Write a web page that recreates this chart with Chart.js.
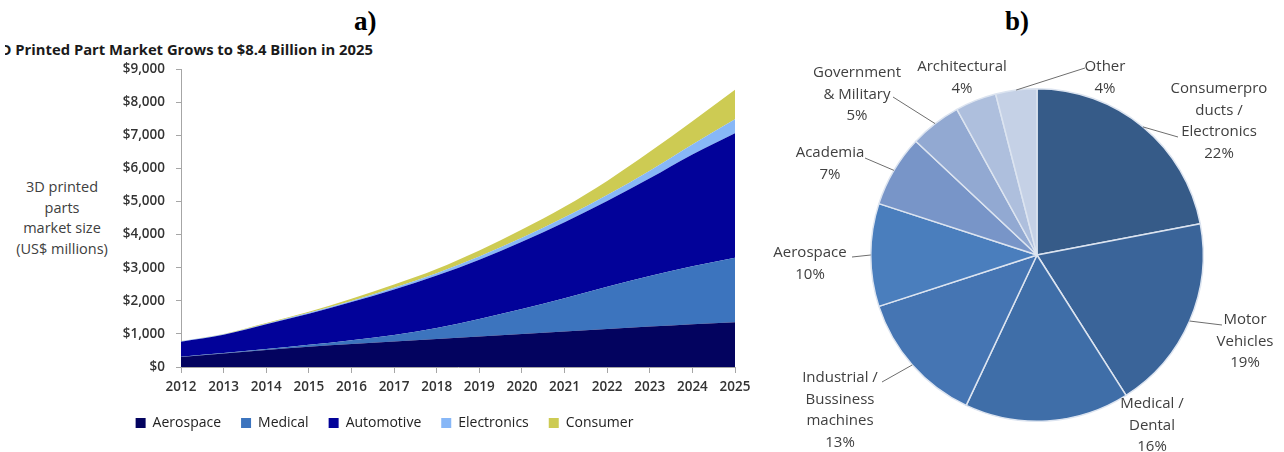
<!DOCTYPE html>
<html><head><meta charset="utf-8">
<script src="https://cdn.jsdelivr.net/npm/chart.js@4.4.0/dist/chart.umd.min.js"></script>
<style>
html,body{margin:0;padding:0;background:#fff;width:1284px;height:452px;overflow:hidden;position:relative;}
#left{position:absolute;left:0;top:0;width:760px;height:452px;}
#right{position:absolute;left:760px;top:0;width:524px;height:452px;}
.panel{position:absolute;font-family:"Liberation Serif",serif;font-weight:bold;font-size:27px;color:#000;line-height:1;}
#titleclip{position:absolute;left:5px;top:40px;width:400px;height:22px;overflow:hidden;}
#title{position:absolute;left:-13px;top:0;font-family:"Open Sans",sans-serif;font-weight:700;font-size:14.8px;color:#1a1a1a;white-space:nowrap;line-height:18px;}
#ytitle{position:absolute;left:2px;top:177px;width:120px;text-align:center;font-family:"Open Sans",sans-serif;font-size:14.5px;line-height:20.7px;color:#404040;}
</style></head>
<body>
<div class="panel" style="left:354px;top:8px;">a)</div>
<div class="panel" style="left:1005px;top:8px;">b)</div>
<div id="titleclip"><div id="title">3D Printed Part Market Grows to $8.4 Billion in 2025</div></div>
<div id="ytitle">3D printed<br>parts<br>market size<br>(US$ millions)</div>
<div id="left"><canvas id="c1" width="760" height="452"></canvas></div>
<div id="right"><canvas id="c2" width="524" height="452"></canvas></div>
<script>
// ---- Area chart data (US$ millions) ----
const years = ['2012','2013','2014','2015','2016','2017','2018','2019','2020','2021','2022','2023','2024','2025'];
const aerospace   = [300, 410, 515, 610, 695, 770, 845, 920, 995, 1070, 1145, 1220, 1290, 1350];
const medical     = [10, 10, 25, 60, 115, 200, 335, 530, 755, 1010, 1275, 1530, 1750, 1950];
const automotive  = [455, 555, 750, 940, 1150, 1370, 1580, 1790, 2030, 2290, 2590, 2950, 3380, 3760];
const electronics = [10, 12, 18, 25, 35, 50, 70, 95, 120, 150, 185, 230, 300, 420];
const consumer    = [10, 13, 22, 35, 65, 100, 130, 185, 250, 320, 425, 570, 700, 890];
const seriesNames = ['Aerospace','Medical','Automotive','Electronics','Consumer'];
const yTicksMax = 9000, yTickStep = 1000;

// ---- Pie chart data (%) ----
const pieLabels = ['Consumerpro\nducts /\nElectronics','Motor\nVehicles','Medical /\nDental','Industrial /\nBussiness\nmachines','Aerospace','Academia','Government\n& Military','Architectural','Other'];
const pieValues = [22, 19, 16, 13, 10, 7, 5, 4, 4];

const seriesColors = ['#03035F','#3C74BE','#020299','#87B7F7','#CDCB53'];
const pieColors = ['#365B88','#3A6499','#3F6EA8','#4575B3','#4A7EBD','#7895C8','#92A9D2','#AEBFDD','#C5D1E6'];

const areaData = [aerospace, medical, automotive, electronics, consumer];
const axisFont = {family:'"Open Sans", sans-serif', size:13.5, weight:'600'};

new Chart(document.getElementById('c1'), {
  type:'line',
  data:{
    labels: years,
    datasets: areaData.map((d,i)=>({
      label: seriesNames[i], data: d,
      backgroundColor: seriesColors[i], borderColor: seriesColors[i],
      borderWidth: 0, pointRadius: 0, cubicInterpolationMode:'monotone',
      fill: i===0 ? 'origin' : '-1'
    }))
  },
  options:{
    responsive:false, animation:false,
    layout:{padding:{left:34,right:25,top:69,bottom:12}},
    plugins:{
      tooltip:{enabled:false},
      legend:{position:'bottom', labels:{boxWidth:10, boxHeight:10, padding:20, color:'#222',
        font:{family:'"Open Sans", sans-serif', size:14}}}
    },
    scales:{
      x:{
        grid:{drawOnChartArea:false, color:'#A6A6A6', tickLength:6},
        border:{color:'#A6A6A6'},
        ticks:{color:'#333', font:axisFont, maxRotation:0, autoSkip:false, padding:6},
        afterFit:s=>{s.height=29;}
      },
      y:{
        stacked:true, min:0, max:yTicksMax,
        grid:{drawOnChartArea:false, color:'#A6A6A6', tickLength:5},
        border:{color:'#A6A6A6'},
        ticks:{stepSize:yTickStep, color:'#333', font:axisFont, padding:11,
          callback:v=>'$'+Number(v).toLocaleString('en-US')},
        afterFit:s=>{s.width=147;}
      }
    }
  }
});

// ---- Pie ----
const labelLayout = [
  {pos:[182,-166], lead:[141,-118]},
  {pos:[208,65],   lead:[185,70]},
  {pos:[115,149],  lead:null},
  {pos:[-197,123], lead:[-155,127]},
  {pos:[-227,-2],  lead:[-185,2]},
  {pos:[-207,-102],lead:[-172,-97]},
  {pos:[-180,-182],lead:[-144,-158]},
  {pos:[-75,-188], lead:null},
  {pos:[68,-188],  lead:[48,-187]}
];
const pieLabelPlugin = {
  id:'pieLabels',
  afterDatasetsDraw(chart){
    const ctx = chart.ctx;
    const meta = chart.getDatasetMeta(0);
    ctx.save();
    ctx.font = '15px "Open Sans", sans-serif';
    ctx.fillStyle = '#404040';
    ctx.textAlign = 'center'; ctx.textBaseline = 'middle';
    meta.data.forEach((arc,i)=>{
      const p = arc.getProps(['x','y','outerRadius','startAngle','endAngle'], true);
      const mid = (p.startAngle+p.endAngle)/2;
      const ex = p.x + Math.cos(mid)*p.outerRadius, ey = p.y + Math.sin(mid)*p.outerRadius;
      const L = labelLayout[i];
      if (L.lead){
        ctx.beginPath(); ctx.strokeStyle='#6e6e6e'; ctx.lineWidth=1;
        ctx.moveTo(ex,ey); ctx.lineTo(p.x+L.lead[0], p.y+L.lead[1]); ctx.stroke();
      }
      const lines = pieLabels[i].split('\n').concat([pieValues[i]+'%']);
      lines.forEach((t,j)=>ctx.fillText(t, p.x+L.pos[0], p.y+L.pos[1]+j*21.5));
    });
    ctx.restore();
  }
};
new Chart(document.getElementById('c2'), {
  type:'pie',
  data:{labels: pieLabels, datasets:[{data: pieValues, backgroundColor: pieColors, borderColor:'#DCE4F0', borderWidth:1.5}]},
  options:{
    responsive:false, animation:false,
    layout:{padding:{left:110,right:80,top:88,bottom:30}},
    plugins:{legend:{display:false}, tooltip:{enabled:false}}
  },
  plugins:[pieLabelPlugin]
});
</script>
</body></html>
